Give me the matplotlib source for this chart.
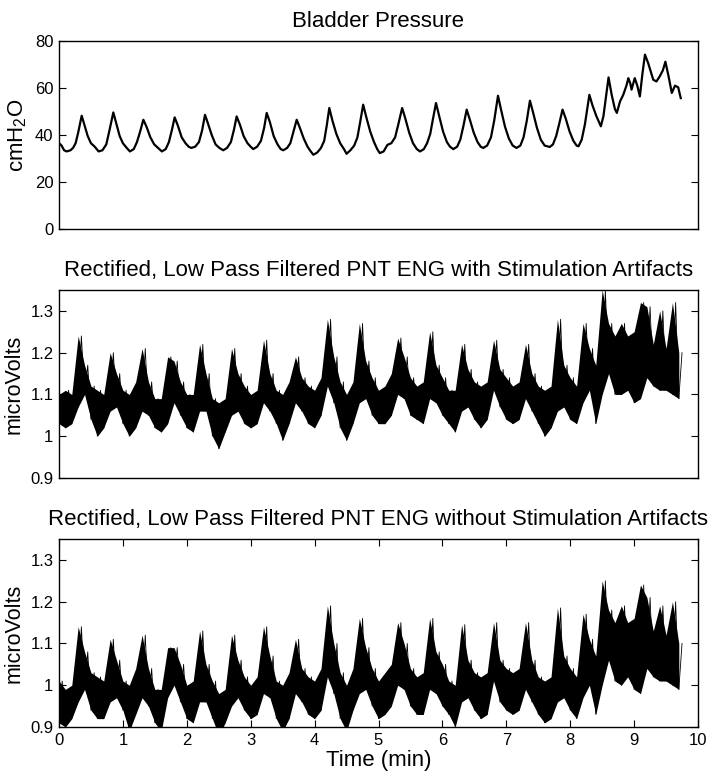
import numpy as np
import matplotlib
matplotlib.use("Agg")
import matplotlib.pyplot as plt

plt.rcParams['font.family'] = ['Liberation Sans', 'DejaVu Sans']
plt.rcParams['mathtext.default'] = 'regular'

# ---------------- data ----------------
# Bladder pressure (min, cmH2O)
p_time = [0.00, 0.04, 0.08, 0.12, 0.18, 0.22, 0.26, 0.30, 0.355, 0.40, 0.45, 0.50, 0.56,
          0.62, 0.68, 0.74, 0.79, 0.85, 0.90, 0.95, 1.00, 1.06, 1.11, 1.17, 1.22, 1.27,
          1.32, 1.37, 1.43, 1.49, 1.55, 1.61, 1.67, 1.72, 1.77, 1.81, 1.86, 1.92, 1.98,
          2.03, 2.07, 2.13, 2.19, 2.24, 2.285, 2.33, 2.39, 2.45, 2.51, 2.57, 2.63, 2.69,
          2.74, 2.78, 2.83, 2.89, 2.95, 3.00, 3.04, 3.10, 3.16, 3.21, 3.25, 3.30, 3.36,
          3.42, 3.47, 3.51, 3.57, 3.62, 3.67, 3.72, 3.77, 3.83, 3.89, 3.94, 3.98, 4.04,
          4.10, 4.15, 4.19, 4.23, 4.28, 4.34, 4.40, 4.46, 4.50, 4.56, 4.62, 4.67, 4.71,
          4.76, 4.81, 4.87, 4.93, 4.98, 5.02, 5.08, 5.14, 5.20, 5.26, 5.31, 5.37, 5.42,
          5.48, 5.54, 5.60, 5.65, 5.71, 5.76, 5.81, 5.85, 5.90, 5.95, 6.01, 6.07, 6.12,
          6.17, 6.23, 6.28, 6.33, 6.38, 6.43, 6.49, 6.55, 6.60, 6.64, 6.70, 6.76, 6.81,
          6.87, 6.92, 6.98, 7.04, 7.10, 7.16, 7.22, 7.27, 7.32, 7.37, 7.42, 7.48, 7.54,
          7.60, 7.68, 7.73, 7.78, 7.83, 7.88, 7.93, 7.99, 8.05, 8.10, 8.13, 8.18, 8.23,
          8.30, 8.35, 8.41, 8.48, 8.52, 8.56, 8.60, 8.65, 8.70, 8.73, 8.78, 8.83, 8.88,
          8.91, 8.94, 8.96, 9.01, 9.05, 9.09, 9.13, 9.17, 9.22, 9.30, 9.35, 9.40, 9.45,
          9.49, 9.54, 9.59, 9.64, 9.69, 9.73]
p_value = [36.6, 35.5, 33.5, 33.0, 33.5, 34.5, 36.5, 41.0, 48.2, 44.0, 39.5, 36.5, 35.0,
           33.0, 33.5, 36.0, 42.0, 49.6, 44.5, 39.5, 36.5, 34.5, 33.0, 34.0, 37.0, 41.5,
           46.5, 43.5, 39.0, 36.0, 34.5, 33.0, 34.0, 37.0, 42.5, 47.5, 44.0, 39.0, 36.5,
           35.0, 34.5, 35.0, 37.0, 42.0, 48.6, 45.0, 40.0, 36.0, 34.5, 33.5, 34.5, 37.0,
           42.5, 47.9, 44.5, 39.5, 36.5, 35.0, 34.0, 35.0, 37.5, 43.0, 49.4, 45.5, 39.5,
           36.0, 34.0, 33.5, 34.5, 36.5, 41.5, 46.5, 43.0, 38.5, 35.0, 33.0, 31.6, 32.5,
           34.5, 37.5, 44.0, 51.5, 46.0, 40.5, 36.5, 34.0, 32.0, 33.5, 35.5, 39.0, 45.0,
           52.9, 47.5, 41.5, 37.0, 34.0, 32.3, 33.0, 35.8, 36.5, 39.0, 44.5, 51.5, 47.0,
           41.0, 36.5, 34.0, 33.0, 34.0, 36.5, 40.5, 46.5, 53.6, 48.0, 41.5, 37.0, 35.0,
           34.0, 35.0, 38.0, 44.0, 50.8, 46.5, 41.0, 37.0, 35.0, 34.5, 35.5, 39.0, 46.0,
           56.7, 50.5, 43.5, 38.5, 35.5, 34.5, 35.5, 39.0, 46.0, 54.6, 49.5, 43.0, 38.0,
           35.5, 34.9, 36.0, 39.5, 45.0, 50.8, 47.0, 41.5, 37.5, 35.5, 35.2, 38.0, 44.5,
           57.1, 52.5, 48.0, 43.7, 48.0, 56.4, 64.5, 57.0, 51.0, 49.4, 54.3, 57.1, 61.0,
           64.2, 62.0, 59.3, 64.2, 61.0, 56.4, 66.0, 74.2, 70.6, 63.5, 62.8, 64.9, 67.5,
           71.2, 64.9, 57.9, 61.0, 60.3, 55.7]

# ENG: local minimum (at each 0.1 min step) and local maximum (half a step later)
eng_time = [round(0.1 * k, 1) for k in range(98)]
eng1_low = [1.03, 1.02, 1.03, 1.07, 1.10, 1.04, 1.00, 1.02, 1.06, 1.07,
            1.03, 1.00, 1.02, 1.06, 1.05, 1.02, 1.01, 1.03, 1.08, 1.05,
            1.02, 1.01, 1.06, 1.06, 1.00, 0.97, 1.01, 1.05, 1.06, 1.03,
            1.02, 1.03, 1.08, 1.06, 1.03, 0.99, 1.03, 1.08, 1.06, 1.03,
            1.02, 1.05, 1.12, 1.08, 1.02, 0.99, 1.03, 1.08, 1.09, 1.05,
            1.03, 1.03, 1.05, 1.10, 1.09, 1.05, 1.04, 1.03, 1.09, 1.08,
            1.05, 1.03, 1.01, 1.06, 1.07, 1.04, 1.02, 1.04, 1.11, 1.07,
            1.04, 1.03, 1.04, 1.09, 1.06, 1.03, 1.00, 1.02, 1.06, 1.07,
            1.04, 1.03, 1.08, 1.11, 1.03, 1.10, 1.15, 1.10, 1.10, 1.11,
            1.08, 1.09, 1.14, 1.12, 1.11, 1.11, 1.10, 1.09]
eng1_high = [1.10, 1.11, 1.10, 1.24, 1.17, 1.12, 1.11, 1.10, 1.20, 1.15,
             1.11, 1.10, 1.13, 1.21, 1.13, 1.09, 1.09, 1.19, 1.18, 1.13,
             1.10, 1.10, 1.22, 1.15, 1.09, 1.08, 1.09, 1.21, 1.15, 1.12,
             1.10, 1.11, 1.23, 1.15, 1.11, 1.10, 1.13, 1.19, 1.14, 1.12,
             1.11, 1.14, 1.28, 1.19, 1.13, 1.10, 1.13, 1.27, 1.18, 1.14,
             1.11, 1.12, 1.15, 1.235, 1.19, 1.14, 1.12, 1.13, 1.25, 1.17,
             1.14, 1.11, 1.11, 1.22, 1.16, 1.13, 1.12, 1.13, 1.23, 1.16,
             1.14, 1.12, 1.13, 1.22, 1.15, 1.12, 1.11, 1.12, 1.28, 1.17,
             1.14, 1.12, 1.27, 1.21, 1.17, 1.35, 1.27, 1.24, 1.27, 1.24,
             1.25, 1.32, 1.31, 1.22, 1.30, 1.21, 1.32, 1.20]
eng2_low = [0.91, 0.90, 0.92, 0.96, 0.99, 0.94, 0.92, 0.92, 0.96, 0.97,
            0.94, 0.89, 0.93, 0.97, 0.95, 0.91, 0.89, 0.97, 1.00, 0.96,
            0.92, 0.91, 0.96, 0.96, 0.92, 0.88, 0.91, 0.95, 0.97, 0.94,
            0.92, 0.93, 0.98, 0.97, 0.92, 0.89, 0.92, 0.98, 0.96, 0.93,
            0.92, 0.94, 1.02, 0.98, 0.92, 0.89, 0.94, 0.98, 0.99, 0.95,
            0.92, 0.93, 0.95, 1.00, 0.99, 0.95, 0.93, 0.93, 0.99, 0.98,
            0.95, 0.93, 0.90, 0.96, 0.97, 0.94, 0.92, 0.93, 1.01, 0.96,
            0.94, 0.93, 0.94, 0.99, 0.96, 0.93, 0.91, 0.92, 0.96, 0.97,
            0.94, 0.92, 0.97, 1.00, 0.93, 1.00, 1.06, 1.01, 1.00, 1.02,
            0.99, 0.98, 1.04, 1.02, 1.01, 1.01, 1.00, 0.99]
eng2_high = [1.01, 0.99, 1.00, 1.14, 1.08, 1.03, 1.02, 1.01, 1.11, 1.06,
             1.01, 1.00, 1.04, 1.12, 1.04, 0.99, 0.99, 1.09, 1.09, 1.05,
             1.00, 1.01, 1.13, 1.05, 1.01, 0.98, 0.99, 1.12, 1.06, 1.02,
             1.00, 1.02, 1.14, 1.07, 1.01, 1.00, 1.03, 1.11, 1.04, 1.02,
             1.01, 1.04, 1.19, 1.10, 1.03, 1.00, 1.04, 1.16, 1.09, 1.04,
             1.01, 1.03, 1.05, 1.15, 1.10, 1.04, 1.02, 1.03, 1.16, 1.08,
             1.05, 1.01, 1.00, 1.145, 1.06, 1.03, 1.02, 1.03, 1.15, 1.06,
             1.04, 1.03, 1.04, 1.15, 1.06, 1.02, 1.01, 1.02, 1.185, 1.07,
             1.04, 1.02, 1.17, 1.11, 1.07, 1.25, 1.18, 1.15, 1.19, 1.15,
             1.16, 1.24, 1.21, 1.13, 1.19, 1.12, 1.20, 1.10]

x_ticks = [0, 1, 2, 3, 4, 5, 6, 7, 8, 9, 10]
p_ticks = [0, 20, 40, 60, 80]
eng_ticks = [0.9, 1.0, 1.1, 1.2, 1.3]
eng_ticklabels = ['0.9', '1', '1.1', '1.2', '1.3']

titles = ['Bladder Pressure',
          'Rectified, Low Pass Filtered PNT ENG with Stimulation Artifacts',
          'Rectified, Low Pass Filtered PNT ENG without Stimulation Artifacts']

# ---------------- figure ----------------
W, H = 712, 776
fig = plt.figure(figsize=(W / 100, H / 100), dpi=100)

def axes_px(left, top, right, bottom):
    return fig.add_axes([left / W, 1 - bottom / H, (right - left) / W, (bottom - top) / H])

ax1 = axes_px(59, 41, 698, 229)
ax2 = axes_px(59, 290, 698, 478)
ax3 = axes_px(59, 539, 698, 727)

def style(ax):
    ax.tick_params(direction='in', length=5, width=0.8, top=True, right=True,
                   labelsize=12, pad=4)
    for s in ax.spines.values():
        s.set_linewidth(1.0)
    ax.set_xlim(0, 10)

# top panel
ax1.plot(p_time, p_value, color='k', lw=1.6)
style(ax1)
ax1.set_ylim(0, 80)
ax1.set_yticks(p_ticks)
ax1.set_xticks([])
ax1.set_ylabel('cmH$_2$O', fontsize=16, labelpad=4)
ax1.set_title(titles[0], fontsize=16, pad=10)

def eng_panel(ax, low, high):
    t = np.array(eng_time)
    lo = np.array(low)
    hi = np.array(high)
    ax.fill_between(t, lo, hi, color='k', lw=0)
    zx = np.empty(2 * len(t))
    zy = np.empty(2 * len(t))
    zx[0::2] = t
    zx[1::2] = t + 0.05
    zy[0::2] = lo
    zy[1::2] = hi
    ax.plot(zx, zy, color='k', lw=0.6)
    style(ax)
    ax.set_ylim(0.9, 1.35)
    ax.set_yticks(eng_ticks)
    ax.set_yticklabels(eng_ticklabels)
    ax.set_ylabel('microVolts', fontsize=15.5, labelpad=4)

eng_panel(ax2, eng1_low, eng1_high)
ax2.set_xticks([])
ax2.set_title(titles[1], fontsize=16, pad=10)

eng_panel(ax3, eng2_low, eng2_high)
ax3.set_xticks(x_ticks)
ax3.set_title(titles[2], fontsize=16, pad=10)
ax3.set_xlabel('Time (min)', fontsize=16, labelpad=2)

fig.savefig('out.png', dpi=100)
